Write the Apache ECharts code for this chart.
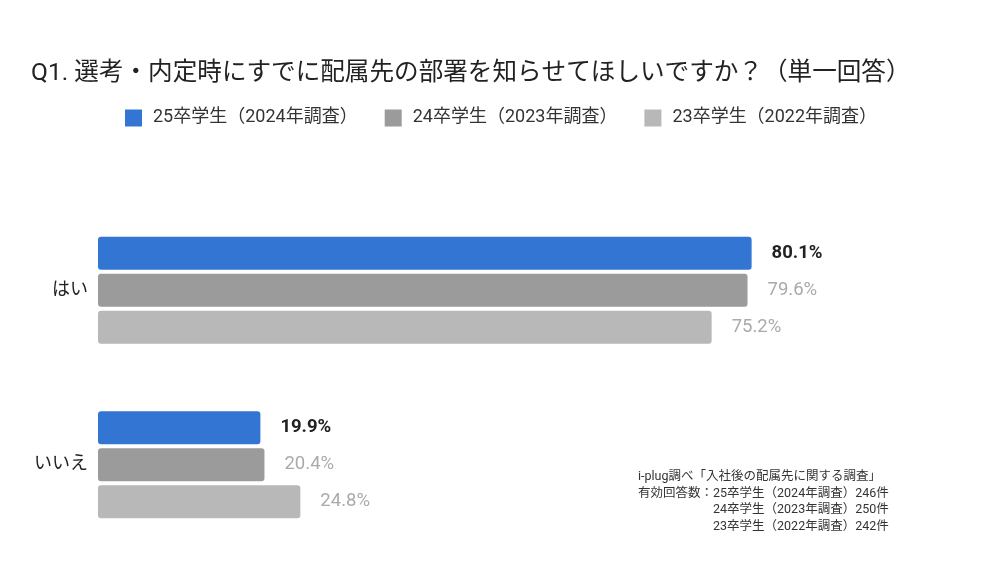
<!DOCTYPE html>
<html>
<head>
<meta charset="utf-8">
<script src="https://cdn.jsdelivr.net/npm/echarts@6/dist/echarts.min.js"></script>
<style>
  html, body { margin: 0; padding: 0; background: #fff; }
  #chart { width: 1000px; height: 566px; }
</style>
</head>
<body>
<div id="chart"></div>
<script>
const categories = ['はい', 'いいえ']
const seriesNames = ['25卒学生（2024年調査）', '24卒学生（2023年調査）', '23卒学生（2022年調査）']
const values25 = [80.1, 19.9]
const values24 = [79.6, 20.4]
const values23 = [75.2, 24.8]
const colors = ['#3275d3', '#9b9b9b', '#b8b8b8']
const noteLines = [
  'i-plug調べ「入社後の配属先に関する調査」',
  '有効回答数：25卒学生（2024年調査）246件',
  '　　　　　　24卒学生（2023年調査）250件',
  '　　　　　　23卒学生（2022年調査）242件'
]

const font = 'Roboto, "Noto Sans CJK JP", sans-serif'
const allValues = [values25, values24, values23]

const chart = echarts.init(document.getElementById('chart'))

// 系列ごとに棒を作る
const series = allValues.map((vals, i) => ({
  name: seriesNames[i],
  type: 'bar',
  data: vals,
  barWidth: 33,
  barGap: '12%',
  itemStyle: { color: colors[i], borderRadius: 3 },
  label: {
    show: true,
    position: 'right',
    distance: 20,
    fontFamily: font,
    fontSize: 18.5,
    fontWeight: i === 0 ? 'bold' : 'normal',
    color: i === 0 ? '#222' : '#aaa',
    formatter: p => p.value.toFixed(1) + '%'
  }
}))

chart.setOption({
  animation: false,
  textStyle: { fontFamily: font },
  title: {
    text: 'Q1. 選考・内定時にすでに配属先の部署を知らせてほしいですか？（単一回答）',
    left: 26,
    top: 57,
    textStyle: { fontFamily: font, fontSize: 24.6, fontWeight: 'normal', color: '#222' }
  },
  legend: {
    top: 104,
    left: 120,
    itemWidth: 17,
    itemHeight: 17,
    itemGap: 27,
    icon: 'rect',
    textStyle: { fontFamily: font, fontSize: 18, color: '#333', padding: [0, 0, 0, 6] },
    data: seriesNames
  },
  grid: { left: 98, right: 86, top: 203, bottom: 14 },
  xAxis: {
    type: 'value',
    min: 0,
    max: 100,
    show: false
  },
  yAxis: {
    type: 'category',
    data: categories,
    inverse: true,
    axisLine: { show: false },
    axisTick: { show: false },
    axisLabel: { fontFamily: font, fontSize: 18, color: '#222', margin: 10 }
  },
  graphic: [{
    type: 'text',
    left: 638,
    top: 469,
    style: {
      text: noteLines.join('\n'),
      font: '12.5px ' + font,
      fill: '#333',
      lineHeight: 16.5
    }
  }],
  series
})
</script>
</body>
</html>
